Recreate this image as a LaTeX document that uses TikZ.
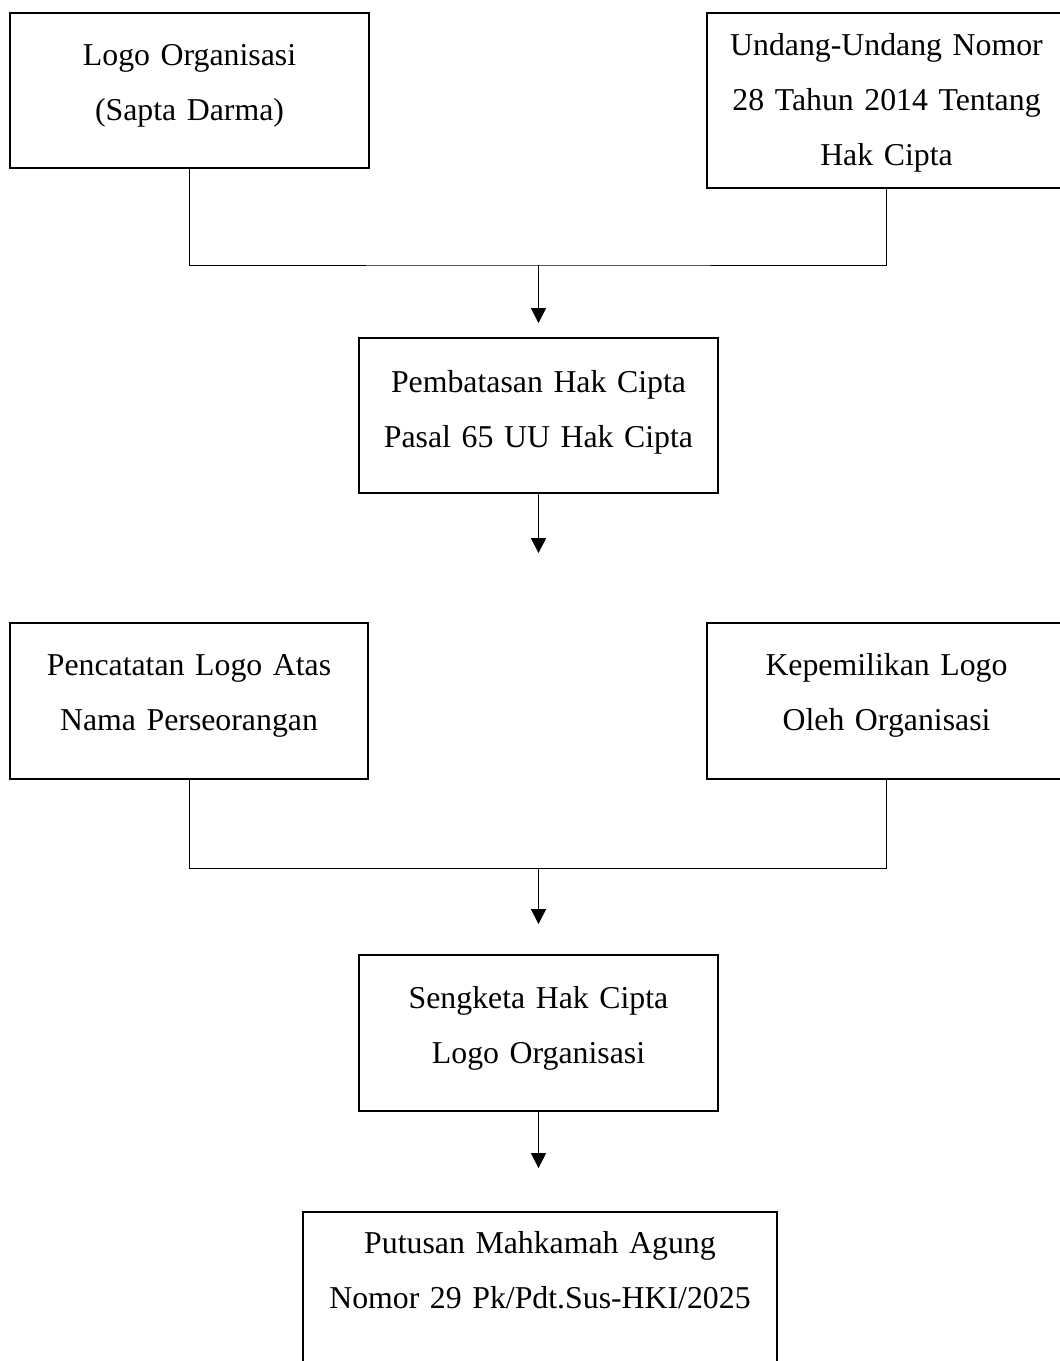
\documentclass[tikz,border=0pt]{standalone}
\usepackage{fontspec}
\setmainfont{Liberation Serif}
\usepackage{tikz}
\usetikzlibrary{arrows.meta}
\tikzset{
flowbox/.style={
  draw,
  line width=1.1pt,
  inner sep=0pt,
  outer sep=0pt,
  anchor=north west,
  align=center,
  font=\fontsize{15.9}{27.5}\selectfont
},
%flowbox/.append style={fill=green!10},
link/.style={line width=0.5pt},
}

\begin{document}
\begin{tikzpicture}[x=0.5pt,y=-0.5pt]
\useasboundingbox (0,0) rectangle (1060,1361);
% the boxes
\node[flowbox,text width=179.5pt,text height=26pt,text depth=51.5pt] (logo) at (10,13)
  {Logo Organisasi\\(Sapta Darma)};
\node[flowbox,text width=179.5pt,text height=21pt,text depth=66.5pt] (uu) at (707,13)
  {Undang-Undang Nomor\\28 Tahun 2014 Tentang\\Hak Cipta};
\node[flowbox,text width=179.5pt,text height=27pt,text depth=50.5pt] (batas) at (359,338)
  {Pembatasan Hak Cipta\\Pasal 65 UU Hak Cipta};
\node[flowbox,text width=179pt,text height=26pt,text depth=52pt] (catat) at (10,623)
  {Pencatatan Logo Atas\\Nama Perseorangan};
\node[flowbox,text width=179.5pt,text height=26pt,text depth=52pt] (milik) at (707,623)
  {Kepemilikan Logo\\Oleh Organisasi};
\node[flowbox,text width=179.5pt,text height=26.5pt,text depth=51.5pt] (sengketa) at (359,955)
  {Sengketa Hak Cipta\\Logo Organisasi};
\node[flowbox,text width=237pt,text height=20.5pt,text depth=75pt] (putusan) at (303,1212)
  {Putusan Mahkamah Agung\\Nomor 29 Pk/Pdt.Sus-HKI/2025};
% the joints
\coordinate (j1) at (538.5,265);
\coordinate (j2) at (538.5,868);
\coordinate (t2) at (538.5,553);
\coordinate (t3) at (538.5,924);
% the rules
\draw[link] (logo.south) |- (j1) -| (uu.south);
\draw[link] (catat.south) |- (j2) -| (milik.south);
% the arrows
\begin{scope}[link,-{Triangle[length=7.5pt,width=7.6pt]}]
\draw[shorten >=7.5pt] (j1) -- (batas.north);
\draw (batas.south) -- (t2);
\draw (j2) -- (t3);
\draw[shorten >=22pt] (sengketa.south) -- (sengketa.south |- putusan.north);
\end{scope}
\end{tikzpicture}
\end{document}
